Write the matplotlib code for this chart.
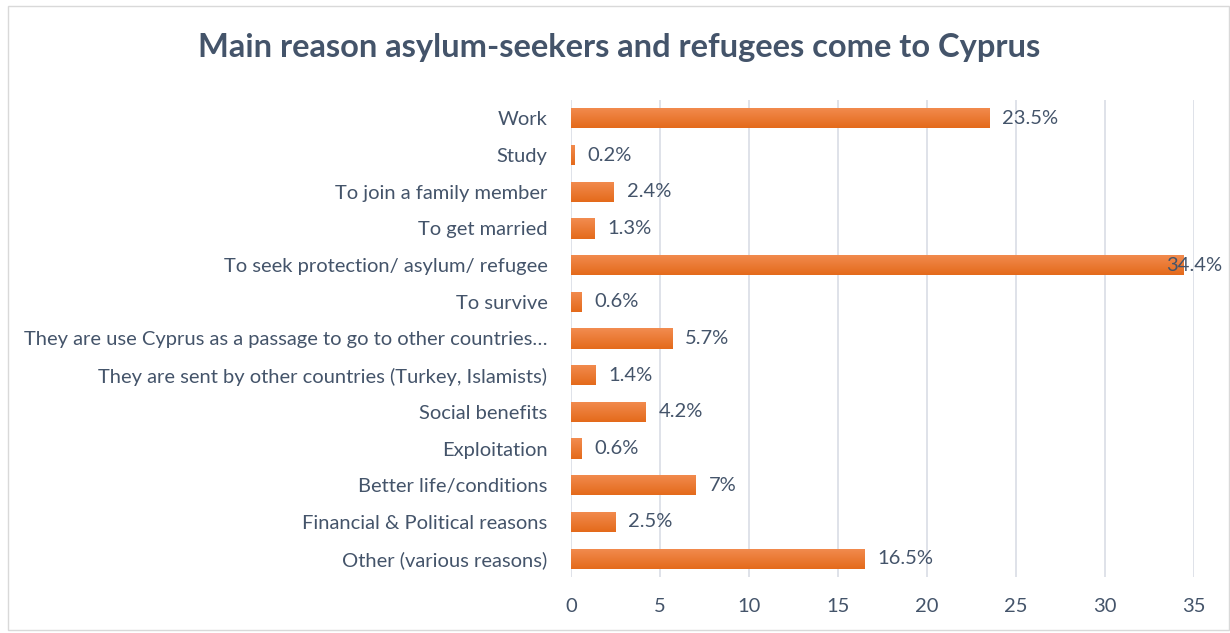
import matplotlib
matplotlib.use("Agg")
import matplotlib.pyplot as plt
import numpy as np
from matplotlib.colors import LinearSegmentedColormap
from matplotlib.patches import Rectangle

categories = [
    "Work",
    "Study",
    "To join a family member",
    "To get married",
    "To seek protection/ asylum/ refugee",
    "To survive",
    "They are use Cyprus as a passage to go to other countries\u2026",
    "They are sent by other countries (Turkey, Islamists)",
    "Social benefits",
    "Exploitation",
    "Better life/conditions",
    "Financial & Political reasons",
    "Other (various reasons)",
]
values = [23.5, 0.2, 2.4, 1.3, 34.4, 0.6, 5.7, 1.4, 4.2, 0.6, 7, 2.5, 16.5]
value_labels = ["23.5%", "0.2%", "2.4%", "1.3%", "34.4%", "0.6%", "5.7%",
                "1.4%", "4.2%", "0.6%", "7%", "2.5%", "16.5%"]
x_ticks = [0, 5, 10, 15, 20, 25, 30, 35]

plt.rcParams["font.family"] = ["Lato", "DejaVu Sans"]
text_color = "#44546A"
grid_color = "#D9DDE5"

fig = plt.figure(figsize=(12.3, 6.33), dpi=100)
fig.patch.set_facecolor("white")

# outer chart border
fig.add_artist(Rectangle((8 / 1230, 3 / 633), 1 - 9 / 1230, 1 - 9 / 633,
                         transform=fig.transFigure, fill=False,
                         edgecolor="#D9D9D9", linewidth=1.0))

ax = fig.add_axes([571 / 1230, 1 - 577 / 633, (1194 - 571) / 1230, (577 - 100) / 633])

y = np.arange(len(categories))
bar_h = 0.55
bars = ax.barh(y, values, height=bar_h, color="none", edgecolor="none", zorder=3)

# vertical gradient fill for each bar: lighter on top, darker at the bottom
grad = LinearSegmentedColormap.from_list("orange_grad", ["#F28C50", "#E46A1B"])
gimg = np.linspace(0, 1, 64).reshape(-1, 1)
for b in bars:
    x0, y0 = b.get_x(), b.get_y()
    w, h = b.get_width(), b.get_height()
    im = ax.imshow(gimg, cmap=grad, aspect="auto", origin="upper",
                   extent=(x0, x0 + w, y0 + h, y0), zorder=3,
                   interpolation="bilinear")
    im.set_clip_path(b)

for yi, v, lab in zip(y, values, value_labels):
    if v > 33:
        ax.text(v - 0.95, yi, lab, va="center", ha="left", fontsize=14.5,
                color=text_color, zorder=4)
    else:
        ax.text(v + 0.72, yi, lab, va="center", ha="left", fontsize=14.5,
                color=text_color, zorder=4)

ax.set_xlim(0, 35)
ax.set_ylim(len(categories) - 0.5, -0.5)
ax.set_xticks(x_ticks)
ax.set_xticklabels([str(t) for t in x_ticks])
ax.set_yticks(y)
ax.set_yticklabels(categories)
ax.tick_params(axis="both", length=0, labelsize=14.5, labelcolor=text_color)
ax.tick_params(axis="y", pad=17)
ax.tick_params(axis="x", pad=15)
ax.grid(axis="x", color=grid_color, linewidth=1.2, zorder=0)
ax.set_axisbelow(True)
for s in ax.spines.values():
    s.set_visible(False)
ax.set_facecolor("white")

fig.text(619 / 1230, 1 - 48 / 633, "Main reason asylum-seekers and refugees come to Cyprus",
         ha="center", va="center", fontsize=23.5, fontweight="bold", color=text_color)

fig.savefig("out.png", dpi=100)
